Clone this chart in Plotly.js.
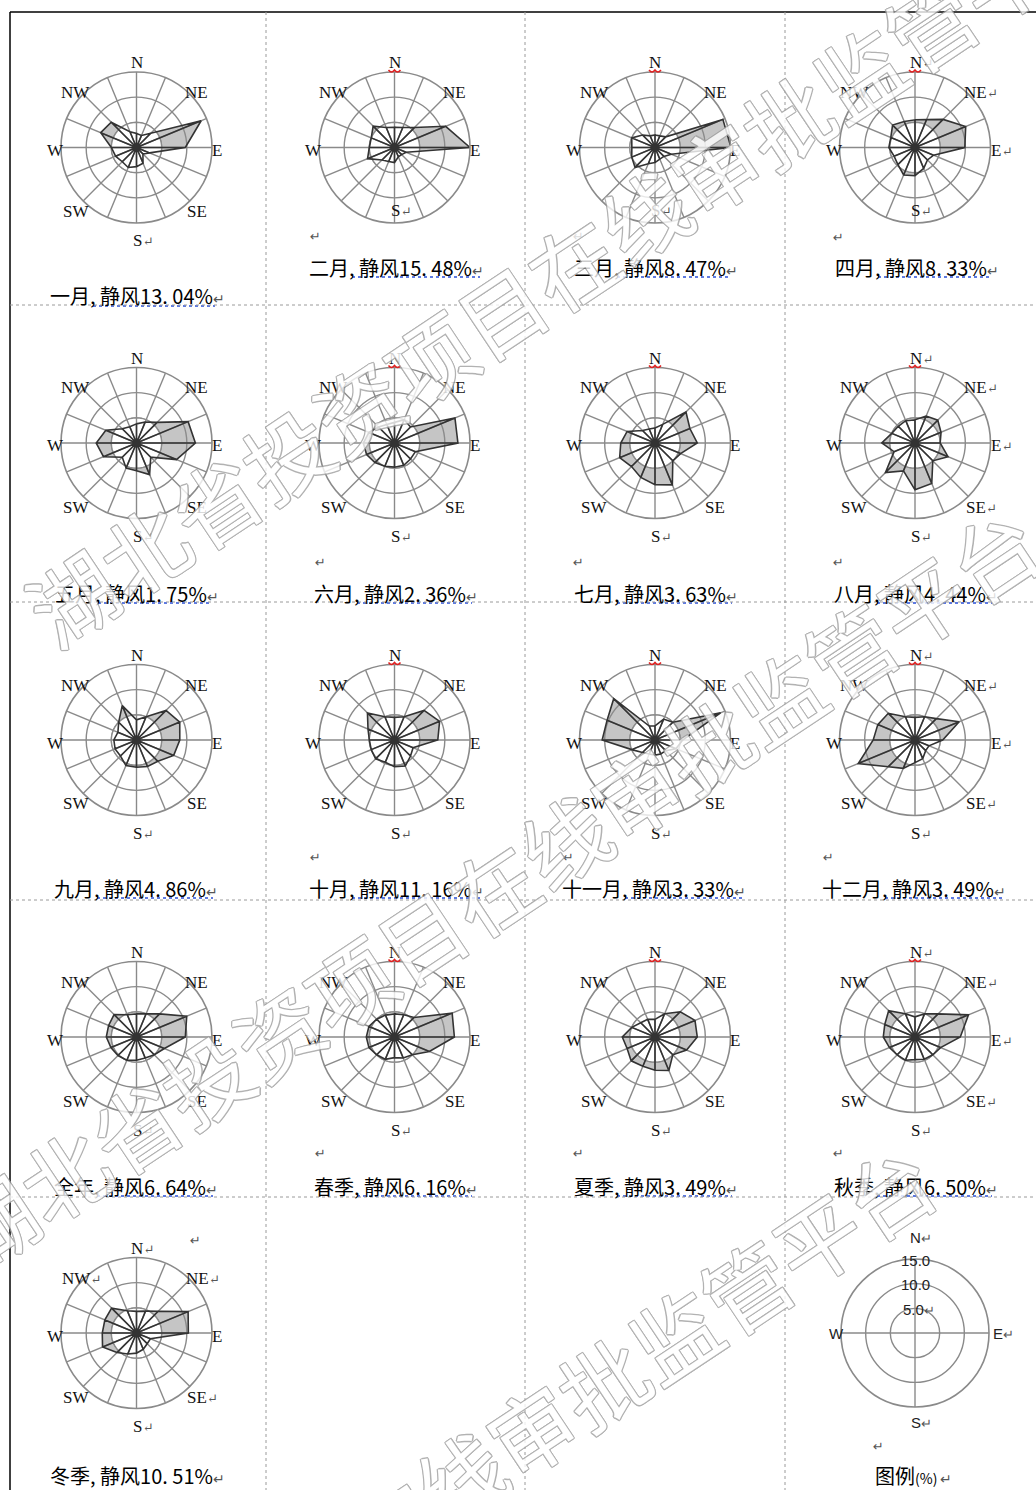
<!DOCTYPE html>
<html><head><meta charset="utf-8">
<script src="https://cdn.plot.ly/plotly-3.0.1.min.js"></script>
<style>html,body{margin:0;padding:0;background:#fff;} #chart{width:1036px;height:1490px;}</style>
</head><body><div id="chart"></div>
<script>
// ---------------- DATA ----------------
const directions = ['N','NNE','NE','ENE','E','ESE','SE','SSE','S','SSW','SW','WSW','W','WNW','NW','NNW'];
const roseNames = ['一月','二月','三月','四月','五月','六月','七月','八月','九月','十月','十一月','十二月','全年','春季','夏季','秋季','冬季'];
const calmPct = [13.04,15.48,8.47,8.33,1.75,2.36,3.63,4.44,4.86,11.16,3.33,3.49,6.64,6.16,3.49,6.50,10.51];
const ringValues = [5,10,15];
const ringLabels = ['5.0','10.0','15.0'];

const freqJan = [2.8,2.6,4.0,13.9,9.7,2.8,1.8,3.4,3.8,4.3,4.0,4.5,5.0,7.7,7.1,3.4];
const freqFeb = [4.0,4.3,5.6,11.0,15.0,2.5,2.0,2.0,3.0,3.0,3.5,5.8,5.0,5.0,6.0,4.3];
const freqMar = [2.5,2.5,3.0,14.6,15.1,3.5,2.5,2.5,3.0,3.5,5.6,5.0,4.6,5.0,3.5,2.5];
const freqApr = [5.5,6.0,7.9,10.9,9.9,4.0,3.5,4.5,5.6,5.9,4.8,4.5,5.2,5.2,6.3,5.6];
const freqMay = [3.8,4.5,5.8,11.1,11.7,8.6,4.0,6.8,5.5,5.4,4.0,7.1,8.0,6.6,4.0,3.5];
const freqJun = [4.1,5.0,4.5,13.0,12.6,4.5,4.5,4.8,4.8,5.0,5.5,6.0,6.2,5.5,4.5,4.0];
const freqJul = [3.0,4.0,8.7,7.5,8.4,5.5,5.0,9.0,8.3,7.4,6.6,7.6,6.8,6.0,3.5,3.0];
const freqAug = [4.6,5.8,6.4,5.6,5.0,7.1,5.0,8.7,9.3,6.0,8.3,4.5,6.6,5.0,4.7,4.8];
const freqSep = [4.0,5.0,8.3,9.3,8.6,8.0,6.0,5.7,5.4,5.5,4.5,4.6,4.5,4.0,5.0,7.4];
const freqOct = [4.5,5.0,8.3,9.7,8.6,4.0,4.5,5.6,5.3,4.8,5.3,5.0,5.0,5.7,7.6,5.0];
const freqNov = [2.8,4.5,5.0,14.1,5.5,4.5,3.0,3.0,3.0,3.0,3.5,5.0,10.5,10.3,11.6,3.0];
const freqDec = [4.5,5.0,6.0,9.5,5.5,3.0,3.0,4.0,4.5,6.1,7.5,12.2,8.3,8.0,7.5,5.0];
const freqYear = [4.6,5.0,6.5,10.8,9.7,6.0,5.0,4.5,4.6,5.0,5.2,5.5,6.0,6.0,6.3,4.8];
const freqSpring = [4.6,4.8,5.5,12.4,11.9,7.5,5.0,4.5,4.1,4.8,5.0,5.5,5.6,5.5,5.0,4.7];
const freqSummer = [3.5,5.0,7.1,8.6,8.4,6.8,5.0,7.2,6.6,6.3,6.7,6.0,6.5,5.0,4.0,3.8];
const freqAutumn = [4.0,5.0,6.5,11.5,9.0,5.5,5.0,4.8,4.5,5.0,5.0,5.5,6.3,6.5,7.4,5.0];
const freqWinter = [4.3,4.7,6.1,11.1,10.3,3.0,3.0,3.5,4.0,4.5,5.5,7.3,6.8,6.8,7.0,4.8];
const roseFreqs = [freqJan,freqFeb,freqMar,freqApr,freqMay,freqJun,freqJul,freqAug,freqSep,freqOct,freqNov,freqDec,freqYear,freqSpring,freqSummer,freqAutumn,freqWinter];

// compass labels shown, and which carry a paragraph mark
const compassLabels = ['N','NE','E','SE','S','SW','W','NW'];
const markedLabels = ['S','S','S','N NE E S','S','S','S','N NE E SE S','S','S','S','N NE E SE S','S','S','S','N NE E SE S','N NW NE SE S'];

// ---------------- LAYOUT HELPERS ----------------
const W = 1036, H = 1490;
const X = p => p / W, Y = p => 1 - p / H;
const R = 75.5;
const colX = [136.5, 394.5, 655, 915];
const rowY = [147.5, 443, 740, 1037, 1333];
const GRID = '#8a8a8a';
const shortRow = [1,2,3];
const labelOff = {N:[0,-85], NE:[60,-55], E:[80,3], SE:[60,64], S:[0,93], SW:[-61,64], W:[-81,3], NW:[-61,-55]};
const capLeft = [48,307,572,833, 53,312,572,832, 52,307,560,820, 52,312,572,832, 48];
const capRight = [235,500,750,1010, 232,492,752,1012, 233,500,764,1024, 233,492,752,1012, 240];
const capY = [296,267,267,267, 593,593,593,593, 888,888,888,888, 1186,1186,1186,1186, 1475];
const loneMarks = [[315,236],[578,236],[838,237],[320,562],[578,562],[838,562],[315,857],[568,857],[828,857],[320,1153],[578,1153],[838,1153],[195,1240],[878,1446]];
const squiggleRoses = [1,2,3,5,6,7,9,10,11,13,14,15];
const MARK = '<span style="font-size:13px;color:#555">↵</span>';

const dirAngle = directions.map((d, i) => i * 360 / directions.length);
const circleTh = []; for (let a = 0; a <= 360; a += 5) circleTh.push(a);

const traces = [], layout = {
  width: W, height: H, margin: {l:0, r:0, t:0, b:0},
  paper_bgcolor: '#fff', showlegend: false,
  annotations: [], shapes: []
};

function polarLayout(cx, cy, rad, dtick) {
  return {
    domain: {x: [X(cx - rad), X(cx + rad)], y: [Y(cy + rad), Y(cy - rad)]},
    bgcolor: 'rgba(0,0,0,0)',
    angularaxis: {direction: 'clockwise', rotation: 90, tickmode: 'linear', tick0: 0, dtick: dtick,
      showticklabels: false, ticks: '', showgrid: true, gridcolor: GRID, gridwidth: 1.4,
      showline: true, linecolor: GRID, linewidth: 1.6},
    radialaxis: {range: [0, ringValues[2]], tickmode: 'array', tickvals: ringValues.slice(0, 2),
      showticklabels: false, ticks: '', showline: false, gridcolor: GRID, gridwidth: 1.4}
  };
}
function ann(x, y, text, o) {
  layout.annotations.push(Object.assign({xref: 'paper', yref: 'paper', x: X(x), y: Y(y), text: text,
    showarrow: false, xanchor: 'center', yanchor: 'middle'}, o || {}));
}

roseFreqs.forEach((vals, k) => {
  const sub = 'polar' + (k ? k + 1 : '');
  const cx = colX[k % 4], cy = rowY[Math.floor(k / 4)];
  layout[sub] = polarLayout(cx, cy, R, 22.5);
  const rC = vals.concat(vals[0]), tC = dirAngle.concat(dirAngle[0]);
  const base = {type: 'scatterpolar', subplot: sub, mode: 'lines', hoverinfo: 'skip', showlegend: false};
  traces.push(Object.assign({}, base, {r: rC, theta: tC, fill: 'toself', fillcolor: 'rgba(140,140,140,0.5)',
    line: {width: 0, color: 'rgba(0,0,0,0)'}}));
  traces.push(Object.assign({}, base, {r: circleTh.map(() => ringValues[0]), theta: circleTh, fill: 'toself',
    fillcolor: '#ffffff', line: {width: 0, color: 'rgba(0,0,0,0)'}}));
  const gr = circleTh.map(() => ringValues[0]), gt = circleTh.slice();
  dirAngle.forEach(a => { gr.push(0, ringValues[0]); gt.push(a, a); });
  traces.push(Object.assign({}, base, {r: gr, theta: gt, line: {color: GRID, width: 1.4}}));
  const orr = rC.slice(), ot = tC.slice();
  vals.forEach((v, i) => { orr.push(0, v); ot.push(dirAngle[i], dirAngle[i]); });
  traces.push(Object.assign({}, base, {r: orr, theta: ot, line: {color: '#333333', width: 1.6}}));

  const marks = markedLabels[k].split(' ');
  compassLabels.forEach(L => {
    if (shortRow.includes(k) && (L === 'SE' || L === 'SW')) return;
    let [dx, dy] = labelOff[L];
    if (shortRow.includes(k) && L === 'S') dy = 63;
    const m = marks.includes(L);
    ann(cx + dx + (m ? 6 : 0), cy + dy, L + (m ? MARK : ''),
      {font: {family: 'Liberation Serif, DejaVu Serif, serif', size: 17, color: '#111'}});
  });
  const calm = calmPct[k].toFixed(2).replace('.', '. ');
  ann(capLeft[k], capY[k], roseNames[k] + ', 静风' + calm + '%' + '<span style="font-size:14px;color:#555">↵</span>',
    {xanchor: 'left', font: {family: 'Noto Sans CJK SC, sans-serif', size: 20, color: '#000'}});
  if (k < 16) {
    const u0 = capLeft[k] + roseNames[k].length * 20 + 5, u1 = capRight[k] - 20, uy = capY[k] + 10;
    layout.shapes.push({type: 'line', xref: 'paper', yref: 'paper', x0: X(u0), x1: X(u1), y0: Y(uy), y1: Y(uy),
      line: {color: '#2a4fd8', width: 1.5, dash: 'dot'}});
  }
  if (squiggleRoses.includes(k)) {
    const y0 = cy - R - 2, x0 = cx - 6;
    const p = `M ${X(x0)},${Y(y0)} Q ${X(x0 + 3)},${Y(y0 + 4)} ${X(x0 + 6)},${Y(y0)} Q ${X(x0 + 9)},${Y(y0 + 4)} ${X(x0 + 12)},${Y(y0)}`;
    layout.shapes.push({type: 'path', xref: 'paper', yref: 'paper', path: p, line: {color: '#e02020', width: 1.5}});
  }
});

// ---------------- LEGEND ROSE ----------------
const lx = 915, ly = 1333, lr = 74;
layout.polar18 = polarLayout(lx, ly, lr, 90);
traces.push({type: 'scatterpolar', subplot: 'polar18', r: [null], theta: [null], mode: 'lines', hoverinfo: 'skip', showlegend: false});
const legFont = {family: 'Liberation Sans, Arial, sans-serif', size: 15, color: '#222'};
ann(lx + 6, ly - 96, 'N' + MARK, {font: legFont});
ann(lx - 79, ly, 'W', {font: legFont});
ann(lx + 88, ly, 'E' + MARK, {font: legFont});
ann(lx + 6, ly + 89, 'S' + MARK, {font: legFont});
ringValues.forEach((v, i) => {
  const yy = ly - lr * v / ringValues[2] + 1;
  ann(lx + (i === 0 ? 4 : 0), yy, ringLabels[i] + (i === 0 ? MARK : ''), {font: legFont});
});
ann(873, 1475, '图例<span style="font-size:14px">(%)</span><span style="font-size:14px;color:#555"> ↵</span>',
  {xanchor: 'left', font: {family: 'Noto Sans CJK SC, sans-serif', size: 20, color: '#000'}});

loneMarks.forEach(p => ann(p[0], p[1], '↵', {font: {family: 'DejaVu Sans', size: 13, color: '#555'}}));

// ---------------- PAGE FRAME ----------------
const frame = {color: '#000', width: 1.5};
layout.shapes.push({type: 'line', xref: 'paper', yref: 'paper', x0: X(10), x1: X(1036), y0: Y(12), y1: Y(12), line: frame});
layout.shapes.push({type: 'line', xref: 'paper', yref: 'paper', x0: X(10), x1: X(10), y0: Y(12), y1: Y(1490), line: frame});
[266, 525, 785].forEach(x => layout.shapes.push({type: 'line', xref: 'paper', yref: 'paper', x0: X(x), x1: X(x), y0: Y(12), y1: Y(1490),
  line: {color: '#9a9a9a', width: 1, dash: 'dot'}}));
[305, 602, 900, 1197].forEach(y => layout.shapes.push({type: 'line', xref: 'paper', yref: 'paper', x0: X(10), x1: X(1036), y0: Y(y), y1: Y(y),
  line: {color: '#9a9a9a', width: 1, dash: 'dot'}}));

// ---------------- WATERMARK ----------------
const wmText = '湖北省投资项目在线审批监管平台';
const wmShadow = '1px 0 0 #a0a0a0, -1px 0 0 #a0a0a0, 0 1px 0 #a0a0a0, 0 -1px 0 #a0a0a0, 1px 1px 0 #a0a0a0, -1px -1px 0 #a0a0a0, 1px -1px 0 #a0a0a0, -1px 1px 0 #a0a0a0';
[[572, 262], [492, 887], [387, 1523]].forEach(c => ann(c[0], c[1], wmText, {
  textangle: -33.7, opacity: 0.8,
  font: {family: 'Noto Sans CJK SC, sans-serif', size: 86, color: '#ffffff', shadow: wmShadow}
}));

Plotly.newPlot('chart', traces, layout, {staticPlot: true, displayModeBar: false});
</script></body></html>
